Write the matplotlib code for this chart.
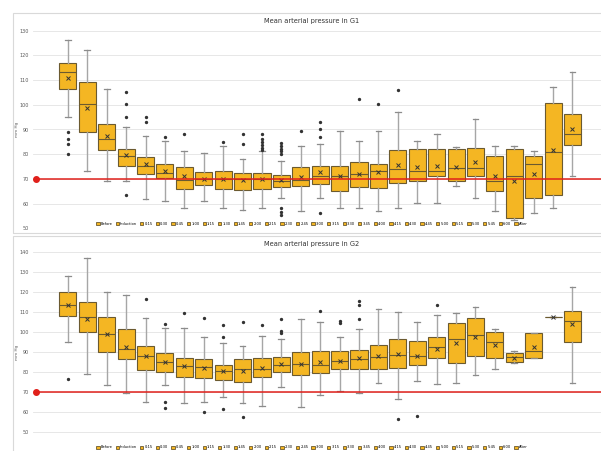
import matplotlib.pyplot as plt
from matplotlib.patches import Patch, Rectangle

# categories (time points)
labels = ["Before", "Induction", "0:15", "0:30", "0:45", "1:00", "1:15", "1:30", "1:45",
          "2:00", "2:15", "2:30", "2:45", "3:00", "3:15", "3:30", "3:45", "4:00", "4:15",
          "4:30", "4:45", "5:00", "5:15", "5:30", "5:45", "6:00", "After"]

# G1 box values (mm Hg)
g1_low = [95.0, 73.0, 69.1, 69.1, 62.0, 61.2, 58.1, 61.2, 58.1, 57.3, 58.2, 62.1, 57.2, 62.1,
          58.2, 58.2, 57.2, 58.2, 60.1, 60.1, 67.3, 62.3, 57.2, 53.4, 56.2, 58.4, 71.2]
g1_q1 = [106.2, 89.1, 81.7, 75.2, 72.0, 70.5, 66.1, 67.7, 66.1, 65.4, 66.1, 66.6, 67.1, 68.1,
         65.1, 66.7, 66.2, 68.5, 69.2, 71.1, 69.2, 71.2, 65.3, 54.3, 62.3, 63.5, 83.7]
g1_med = [113.3, 100.2, 86.3, 79.3, 75.2, 72.4, 69.7, 70.1, 69.9, 69.8, 70.0, 69.3, 69.5, 71.3,
          71.3, 72.1, 73.1, 73.9, 73.2, 73.2, 74.4, 74.3, 69.3, 71.2, 76.0, 80.8, 88.3]
g1_q3 = [117.0, 109.2, 92.1, 82.1, 79.0, 76.2, 74.7, 72.7, 73.1, 72.3, 72.3, 71.7, 74.7, 75.2,
         75.2, 76.7, 76.2, 81.9, 82.2, 82.2, 82.2, 82.7, 79.2, 82.1, 79.2, 100.9, 96.1]
g1_high = [126.1, 122.2, 106.2, 91.1, 87.4, 85.2, 81.2, 80.4, 83.3, 78.1, 81.2, 77.3, 83.2, 84.1,
           89.3, 85.2, 89.3, 97.1, 85.2, 88.3, 83.1, 94.1, 83.2, 83.2, 81.3, 107.2, 113.2]
g1_mean = [111.0, 98.6, 87.2, 79.5, 75.9, 73.0, 71.2, 70.1, 69.9, 69.7, 70.0, 69.6, 70.9, 72.8,
           71.2, 72.0, 72.8, 75.8, 74.7, 75.1, 75.0, 77.0, 71.2, 69.3, 71.9, 81.7, 90.1]
g1_out = [[89.1, 86.3, 84.1, 80.0], [], [], [105.3, 100.2, 95.0, 63.3], [95.2, 93.2], [87.1],
          [88.2], [], [85.1], [88.2, 84.2], [88.3, 86.3, 84.8, 83.7, 82.7, 81.7],
          [84.4, 83.3, 82.3, 81.2, 80.1, 58.4, 56.8, 55.3], [89.3], [93.2, 90.1, 87.0, 56.1],
          [], [102.2], [100.2], [106.1], [], [], [], [], [], [], [], [], []]

# G2 box values (mm Hg)
g2_low = [95.2, 79.1, 73.3, 69.2, 65.0, 73.4, 64.2, 65.0, 67.2, 64.2, 63.0, 72.2, 62.2, 68.2,
          70.2, 69.2, 74.2, 66.4, 75.2, 74.1, 74.2, 78.3, 81.3, 84.4, 87.1, 107.4, 74.2]
g2_q1 = [108.1, 100.2, 89.8, 86.3, 80.9, 80.1, 77.2, 76.7, 75.9, 75.1, 77.2, 80.1, 78.3, 79.3,
         81.3, 81.3, 81.3, 82.1, 83.3, 87.1, 84.3, 88.0, 87.1, 85.0, 87.1, 107.4, 95.0]
g2_med = [113.4, 107.4, 99.2, 91.3, 88.1, 84.8, 83.1, 82.3, 80.3, 81.3, 81.6, 83.3, 83.9, 83.3,
          85.6, 86.5, 87.3, 88.3, 88.1, 92.3, 96.3, 98.3, 95.0, 87.3, 90.5, 107.4, 105.4]
g2_q3 = [120.3, 115.3, 107.4, 101.3, 93.1, 89.3, 87.1, 86.3, 83.4, 86.3, 87.1, 87.6, 90.0, 90.3,
         90.3, 90.8, 93.3, 96.3, 95.3, 97.3, 104.3, 107.2, 99.8, 89.5, 99.3, 107.4, 110.7]
g2_high = [128.3, 137.3, 120.3, 118.6, 107.2, 102.2, 102.2, 97.3, 94.3, 93.1, 98.2, 96.3, 106.4,
           105.2, 97.3, 101.3, 111.4, 110.2, 105.2, 108.5, 109.4, 112.4, 101.3, 90.5, 99.3,
           107.4, 122.4]
g2_mean = [113.4, 106.4, 98.9, 92.5, 88.1, 84.9, 83.1, 81.9, 80.6, 80.6, 81.9, 84.1, 83.9, 85.1,
           85.6, 87.1, 88.1, 89.1, 88.1, 91.6, 94.3, 97.3, 93.5, 87.1, 92.3, 107.4, 103.8]
g2_out = [[76.3], [], [], [], [116.4], [103.8, 65.0, 62.0], [109.4], [107.2, 60.0],
          [103.5, 97.3, 61.2], [105.2, 57.2], [103.3], [106.4, 100.3, 99.3], [], [110.4],
          [105.4, 104.4], [115.4, 113.4, 106.4], [], [56.3], [58.0], [113.4], [], [], [], [],
          [], [], []]

threshold = 70

W, H = 601, 451
gold = "#f4b623"
edge = "#6b5a30"


def rect(left, top, right, bottom):
    return [left / W, 1 - bottom / H, (right - left) / W, (bottom - top) / H]


def draw_panel(top, bottom, frame_top, frame_bottom, ylim, tick_start, title,
               low, q1, med, q3, high, mean, out):
    fig.add_artist(Rectangle((13 / W, 1 - frame_bottom / H), 620 / W, (frame_bottom - frame_top) / H,
                             transform=fig.transFigure, fill=False, edgecolor="#d9d9d9", lw=0.8))
    ax = fig.add_axes(rect(33, top, 601, bottom))
    stats = []
    for i in range(len(labels)):
        stats.append(dict(whislo=low[i], q1=q1[i], med=med[i], q3=q3[i], whishi=high[i],
                          mean=mean[i], fliers=out[i]))
    ax.bxp(stats, positions=range(len(labels)), widths=0.88, patch_artist=True, showmeans=True,
           capwidths=0.3,
           boxprops=dict(facecolor=gold, edgecolor=edge, linewidth=0.8),
           medianprops=dict(color=edge, linewidth=0.8),
           whiskerprops=dict(color="#a6a6a6", linewidth=1.0),
           capprops=dict(color="#8c8c8c", linewidth=0.9),
           meanprops=dict(marker="x", markeredgecolor="#333333", markersize=3, markeredgewidth=0.7),
           flierprops=dict(marker="o", markerfacecolor="#333333", markeredgecolor="#333333",
                           markersize=1.4))
    ax.set_xlim(-1.8, 27.47)
    ax.set_ylim(*ylim)
    ax.set_yticks(range(tick_start, ylim[1] + 1, 10))
    ax.set_xticks([])
    ax.tick_params(axis="y", length=0, pad=3, labelsize=3.5, labelcolor="#595959")
    ax.grid(axis="y", color="#e3e3e3", lw=0.6)
    ax.axhline(ylim[0], color="#e3e3e3", lw=0.6, zorder=0)
    ax.set_axisbelow(True)
    for s in ax.spines.values():
        s.set_visible(False)
    ax.plot([-1.65, 27.47], [threshold, threshold], color="#e0201b", lw=1.1, zorder=5)
    ax.plot([-1.65], [threshold], marker="o", color="#e0201b", markersize=4, zorder=6, clip_on=False)
    handles = [Patch(facecolor=gold, edgecolor=edge, lw=0.6, label=l) for l in labels]
    ax.legend(handles=handles, ncol=len(labels), loc="center", bbox_to_anchor=(0.491, 0.021),
              frameon=False, fontsize=2.6, handlelength=0.9, handleheight=0.9,
              handletextpad=0.3, columnspacing=0.85, borderpad=0)
    fig.text(312 / W, 1 - (frame_top + 8) / H, title, ha="center", va="center",
             fontsize=4.8, color="#333333")
    fig.text(17 / W, 1 - (top + bottom) / 2 / H, "mm Hg", rotation=90, ha="center", va="center",
             fontsize=3, color="#595959")
    return ax


fig = plt.figure(figsize=(W / 100, H / 100), dpi=100)
draw_panel(30.7, 228.3, 13, 233, (50, 130), 50, "Mean arterial pressure in G1",
           g1_low, g1_q1, g1_med, g1_q3, g1_high, g1_mean, g1_out)
draw_panel(252.3, 451.6, 236, 470, (40, 140), 50, "Mean arterial pressure in G2",
           g2_low, g2_q1, g2_med, g2_q3, g2_high, g2_mean, g2_out)
fig.savefig("out.png", dpi=100)
